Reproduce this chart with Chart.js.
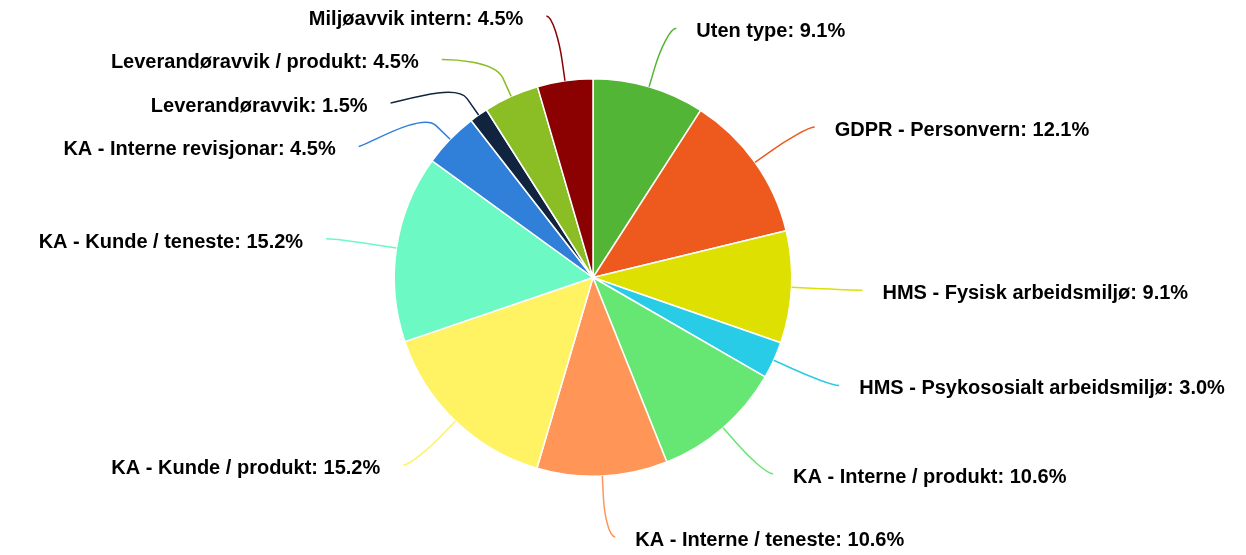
<!DOCTYPE html>
<html><head><meta charset="utf-8">
<script src="https://cdn.jsdelivr.net/npm/chart.js@4.4.1/dist/chart.umd.min.js"></script>
<style>html,body{margin:0;padding:0;background:#fff;overflow:hidden}#wrap{width:1246px;height:555px;position:relative}</style>
</head><body><div id="wrap"><canvas id="c" width="1246" height="555" style="width:1246px;height:555px"></canvas></div>
<script>
const categories = ["Uten type","GDPR - Personvern","HMS - Fysisk arbeidsmiljø","HMS - Psykososialt arbeidsmiljø","KA - Interne / produkt","KA - Interne / teneste","KA - Kunde / produkt","KA - Kunde / teneste","KA - Interne revisjonar","Leverandøravvik","Leverandøravvik / produkt","Miljøavvik intern"];
const shares = [9.1,12.1,9.1,3.0,10.6,10.6,15.2,15.2,4.5,1.5,4.5,4.5];
const sliceColors = ["#52b536","#ee591e","#dde000","#29cce6","#66e672","#ff9658","#fff263","#6cf9c4","#3080d9","#10243f","#8bbd24","#8b0000"];

const LABEL_DIST = 61, CONN_OFF = 20, END_PAD = 10, TEXT_GAP_R = 20, TEXT_GAP_L = 23, BOX = 43.5, EDGE = 16, TEXT_DY = 3.3;
const outsideLabels = {
  id: 'outsideLabels',
  afterDatasetsDraw(chart) {
    const ctx = chart.ctx;
    const meta = chart.getDatasetMeta(0);
    const H = chart.height;
    const items = meta.data.map((arc, i) => {
      const p = arc.getProps(['x','y','startAngle','endAngle','outerRadius'], true);
      const mid = (p.startAngle + p.endAngle) / 2;
      const R = p.outerRadius + LABEL_DIST;
      return {i, cx: p.x, cy: p.y, r: p.outerRadius, R, mid,
        side: Math.cos(mid) >= 0 ? 1 : -1, target: p.y + R * Math.sin(mid)};
    });
    [1, -1].forEach(side => {
      const list = items.filter(o => o.side === side).sort((a, b) => a.target - b.target);
      let groups = list.map(o => ({items: [o], pos: o.target - BOX / 2, size: BOX}));
      const clamp = g => { g.pos = Math.max(EDGE - BOX / 2, Math.min(H - EDGE + BOX / 2 - g.size, g.pos)); };
      groups.forEach(clamp);
      let merged = true;
      while (merged) {
        merged = false;
        for (let k = 0; k < groups.length - 1; k++) {
          const a = groups[k], b = groups[k + 1];
          if (a.pos + a.size > b.pos + 0.01) {
            const its = a.items.concat(b.items);
            const mean = its.reduce((s, o) => s + o.target, 0) / its.length;
            const g = {items: its, size: a.size + b.size};
            g.pos = mean - g.size / 2;
            clamp(g);
            groups.splice(k, 2, g);
            merged = true; break;
          }
        }
      }
      groups.forEach(g => g.items.forEach((o, j) => { o.ay = g.pos + BOX * j + BOX / 2; }));
    });
    ctx.save();
    ctx.font = 'bold 20px "Liberation Sans", Arial, sans-serif';
    ctx.textBaseline = 'middle';
    items.forEach(o => {
      const side = o.side, c = Math.cos(o.mid), s = Math.sin(o.mid);
      const dy = o.ay - o.cy;
      const circ = Math.abs(dy) < o.R ? Math.sqrt(o.R * o.R - dy * dy) : 0;
      const nat = Math.abs(o.R * c);
      const ax = o.cx + side * Math.max(circ, nat);
      const ex = ax + side * END_PAD, ey = o.ay;
      const tx = o.cx + o.r * c, ty = o.cy + o.r * s;
      const bx = o.cx + (o.r + CONN_OFF) * c, by = o.cy + (o.r + CONN_OFF) * s;
      ctx.beginPath();
      ctx.moveTo(ex, ey);
      ctx.bezierCurveTo(ex - side * 6, ey, 2 * bx - tx, 2 * by - ty, bx, by);
      ctx.lineTo(tx, ty);
      ctx.strokeStyle = sliceColors[o.i];
      ctx.lineWidth = 1.5;
      ctx.stroke();
      ctx.fillStyle = '#000';
      ctx.textAlign = side > 0 ? 'left' : 'right';
      ctx.fillText(categories[o.i] + ': ' + shares[o.i].toFixed(1) + '%', ex + side * (side > 0 ? TEXT_GAP_R : TEXT_GAP_L), ey + TEXT_DY);
    });
    ctx.restore();
  }
};

new Chart(document.getElementById('c'), {
  type: 'pie',
  data: {
    labels: categories,
    datasets: [{
      data: shares,
      backgroundColor: sliceColors,
      borderColor: '#ffffff',
      borderWidth: 1.5,
      hoverOffset: 0,
      offset: 0
    }]
  },
  options: {
    responsive: false,
    animation: false,
    devicePixelRatio: 1,
    layout: {padding: {top: 78, bottom: 78, left: 0, right: 60}},
    plugins: {legend: {display: false}, tooltip: {enabled: false}},
    events: []
  },
  plugins: [outsideLabels]
});
</script>
</body></html>
